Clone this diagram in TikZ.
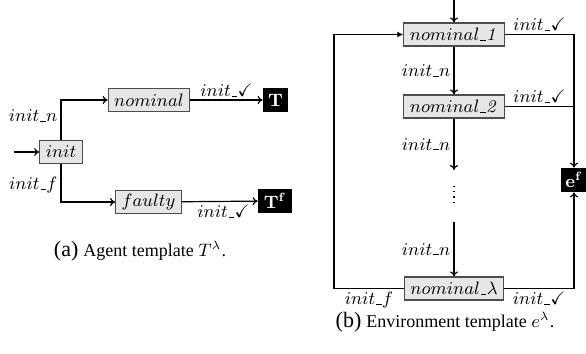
\documentclass[tikz,border=0pt]{standalone}
\usepackage{amssymb}
\usepackage[no-math]{fontspec}
\setmainfont{Liberation Serif}
\usetikzlibrary{arrows.meta}
\definecolor{boxfill}{HTML}{E6E6E6}
\definecolor{boxline}{HTML}{4D4D4D}
\newcommand\usc{\kern.06em\vbox{\hrule width.3em}\kern.02em}
\begin{document}
\begin{tikzpicture}[x=0.5pt,y=-0.5pt,
  state/.style={draw=boxline,fill=boxfill,semithick,inner xsep=3pt,inner ysep=0pt,minimum height=11.5pt,font=\small},
  term/.style={fill=black,text=white,inner sep=0pt,minimum height=12pt,minimum width=12.5pt,font=\small},
  lab/.style={font=\small,inner sep=1.5pt},
  conn/.style={semithick,-{To[length=2.5pt,width=4pt]}},
  line/.style={semithick}]
\useasboundingbox (0,0) rectangle (586,354);
% ---- (a) agent template
\node[state] (init) at (61,152) {$init$};
\node[state] (nom) at (149,100) {$nominal$};
\node[state] (fau) at (148.5,202) {$faulty$};
\node[term] (T) at (275.5,100) {$\mathbf{T}$};
\node[term,minimum width=17pt] (Tf) at (275,201) {$\mathbf{T^f}$};
\coordinate (a0) at (14,152);
\draw[conn] (a0) -- (init);
\draw[conn] (init.north) |- node[lab,left,pos=0.3]{$init\usc n$} (nom.west);
\draw[conn] (init.south) |- node[lab,left,pos=0.28]{$init\usc f$} (fau.west);
\draw[conn] (nom) -- node[lab,above]{$init\usc\checkmark$} (T);
\draw[conn] (fau) -- node[lab,below,pos=0.55]{$init\usc\checkmark$} (Tf);
\node (capa) at (140,251) {{\fontsize{11}{13}\selectfont (a)} {\small Agent template $T^{\lambda}$.}};
% ---- (b) environment template
\node[state] (n1) at (454,34.5) {$nominal\usc\mathit{1}$};
\node[state] (n2) at (454,106.5) {$nominal\usc\mathit{2}$};
\node[state] (nl) at (454,288.5) {$nominal\usc\lambda$};
\node[term] (ef) at (574,180) {$\mathbf{e^f}$};
\coordinate (b0) at (454,0);
\coordinate (d1) at (454,170);
\coordinate (d2) at (454,186);
\coordinate (d3) at (454,206);
\coordinate (d4) at (454,222);
\coordinate (lc) at (334,0);
\draw[conn] (b0) -- (n1);
\draw[conn] (n1) -- node[lab,left]{$init\usc n$} (n2);
\draw[conn] (n2) -- node[lab,left]{$init\usc n$} (d1);
\draw[dotted,semithick] (d2) -- (d3);
\draw[conn] (d4) -- node[lab,left]{$init\usc n$} (nl);
\draw[conn] (n1.east) -| node[lab,above,pos=0.25]{$init\usc\checkmark$} (ef.north);
\draw[line] (n2.east) -- node[lab,above]{$init\usc\checkmark$} (n2.east -| ef.north);
\draw[conn] (nl.east) -| node[lab,below,pos=0.25]{$init\usc\checkmark$} (ef.south);
\draw[semithick,-{Latex[length=3pt,width=3pt]}] (nl.west) -- node[lab,below]{$init\usc f$} (nl.west -| lc) |- (n1.west);
\node (capb) at (445,322) {{\fontsize{11}{13}\selectfont (b)} {\small Environment template $e^{\lambda}$.}};
\end{tikzpicture}
\end{document}
